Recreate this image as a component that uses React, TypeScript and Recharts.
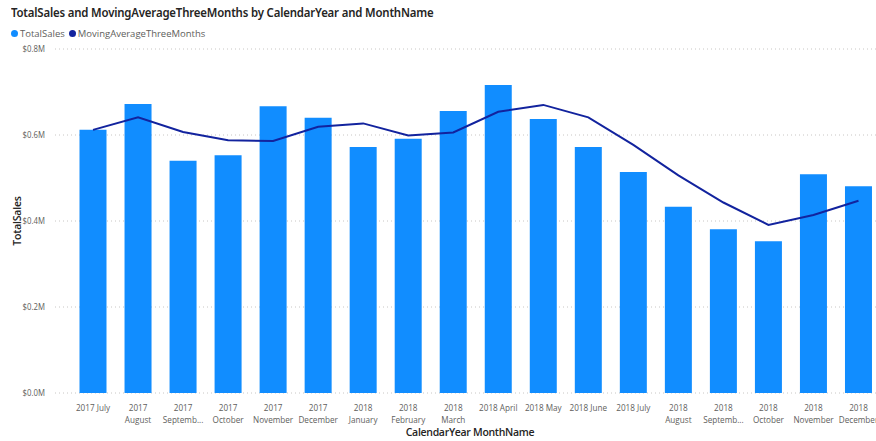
import React from 'react';
import { ComposedChart, Bar, Line, XAxis, YAxis, CartesianGrid, Legend } from 'recharts';

const categories = [
  '2017 July', '2017 August', '2017 September', '2017 October', '2017 November', '2017 December',
  '2018 January', '2018 February', '2018 March', '2018 April', '2018 May', '2018 June',
  '2018 July', '2018 August', '2018 September', '2018 October', '2018 November', '2018 December',
];
const tickLabels = [
  ['2017 July'], ['2017', 'August'], ['2017', 'Septemb...'], ['2017', 'October'], ['2017', 'November'], ['2017', 'December'],
  ['2018', 'January'], ['2018', 'February'], ['2018', 'March'], ['2018 April'], ['2018 May'], ['2018 June'],
  ['2018 July'], ['2018', 'August'], ['2018', 'Septemb...'], ['2018', 'October'], ['2018', 'November'], ['2018', 'December'],
];
const totalSales = [
  612000, 672000, 540000, 553000, 667000, 640000,
  572000, 591000, 656000, 716000, 637000, 572000,
  514000, 433000, 381000, 353000, 509000, 481000,
];
const movingAvg = [
  612000, 641000, 607000, 588000, 586000, 619000,
  627000, 599000, 606000, 654000, 670000, 641000,
  577000, 506000, 443000, 391000, 414000, 447000,
];
const yTicks = [0, 200000, 400000, 600000, 800000];

const data = categories.map((c, i) => ({
  name: c,
  TotalSales: totalSales[i],
  MovingAverageThreeMonths: movingAvg[i],
}));

const FONT = '"Open Sans", "Noto Sans", sans-serif';
const BAR = '#118DFF';
const LINE = '#12239E';
const TICK = '#605E5C';

const fmt = (v: number) => '$' + (v / 1000000).toFixed(1) + 'M';

const XTick = (props: any) => {
  const { x, y, payload } = props;
  const idx = categories.indexOf(payload.value);
  const lines = tickLabels[idx] || [payload.value];
  return (
    <g transform={`translate(${x},${y})`}>
      <text x={0} y={0} textAnchor="middle" fill={TICK} fontSize={9.5} fontFamily={FONT} transform="scale(0.86,1)">
        {lines.map((l: string, i: number) => (
          <tspan key={i} x={0} dy={i === 0 ? 10 : 12.5}>{l}</tspan>
        ))}
      </text>
    </g>
  );
};

const YTick = (props: any) => {
  const { x, y, payload } = props;
  return (
    <g transform={`translate(${x},${y})`}>
      <text x={0} y={0} dy="0.355em" textAnchor="end" fill={TICK} fontSize={9.5} fontFamily={FONT} transform="scale(0.82,1)">
        {fmt(payload.value)}
      </text>
    </g>
  );
};

const LegendContent = () => (
  <div style={{ display: 'flex', alignItems: 'center', height: 16, fontFamily: FONT, fontSize: 9.5, color: TICK, whiteSpace: 'nowrap' }}>
    <span style={{ display: 'inline-block', width: 7, height: 7, borderRadius: 4, background: BAR, marginRight: 2 }} />
    <span style={{ marginRight: 4 }}>TotalSales</span>
    <span style={{ display: 'inline-block', width: 7, height: 7, borderRadius: 4, background: LINE, marginRight: 2 }} />
    <span>MovingAverageThreeMonths</span>
  </div>
);

export default function App() {
  return (
    <div style={{ position: 'absolute', left: 0, top: 0, width: 876, height: 441, overflow: 'hidden', background: '#fff' }}>
      <div style={{ position: 'absolute', left: 11, top: 3, fontFamily: '"Noto Sans", sans-serif', fontSize: 13, fontWeight: 600, color: '#252423', whiteSpace: 'nowrap', letterSpacing: -0.2, transform: 'scaleX(0.877)', transformOrigin: '0 0' }}>
        TotalSales and MovingAverageThreeMonths by CalendarYear and MonthName
      </div>
      <ComposedChart
        width={881}
        height={441}
        data={data}
        margin={{ top: 33, right: 0, bottom: 18, left: 0 }}
        barCategoryGap="20%"
      >
        <Legend verticalAlign="top" align="left" content={<LegendContent />} wrapperStyle={{ top: 25, left: 11, height: 16, width: 'auto' }} />
        <CartesianGrid vertical={false} stroke="#C8C6C4" strokeDasharray="1 3" />
        <XAxis
          dataKey="name"
          interval={0}
          tick={<XTick />}
          tickLine={false}
          axisLine={false}
          height={30}
          padding={{ left: 15.5, right: 0 }}
          label={{ value: 'CalendarYear MonthName', position: 'bottom', offset: 6, dx: 2, fill: '#252423', fontSize: 10.5, fontFamily: FONT, fontWeight: 600, letterSpacing: -0.3 }}
        />
        <YAxis
          width={55}
          domain={[0, 800000]}
          ticks={yTicks}
          tickLine={false}
          axisLine={false}
          tickMargin={4}
          tick={<YTick />}
          label={{ value: 'TotalSales', angle: -90, position: 'center', dx: -10.5, fill: '#252423', fontSize: 10.5, fontFamily: FONT, fontWeight: 600, letterSpacing: -0.2 }}
        />
        <Bar dataKey="TotalSales" fill={BAR} isAnimationActive={false} />
        <Line dataKey="MovingAverageThreeMonths" stroke={LINE} strokeWidth={2} dot={false} activeDot={false} isAnimationActive={false} type="linear" />
      </ComposedChart>
    </div>
  );
}
